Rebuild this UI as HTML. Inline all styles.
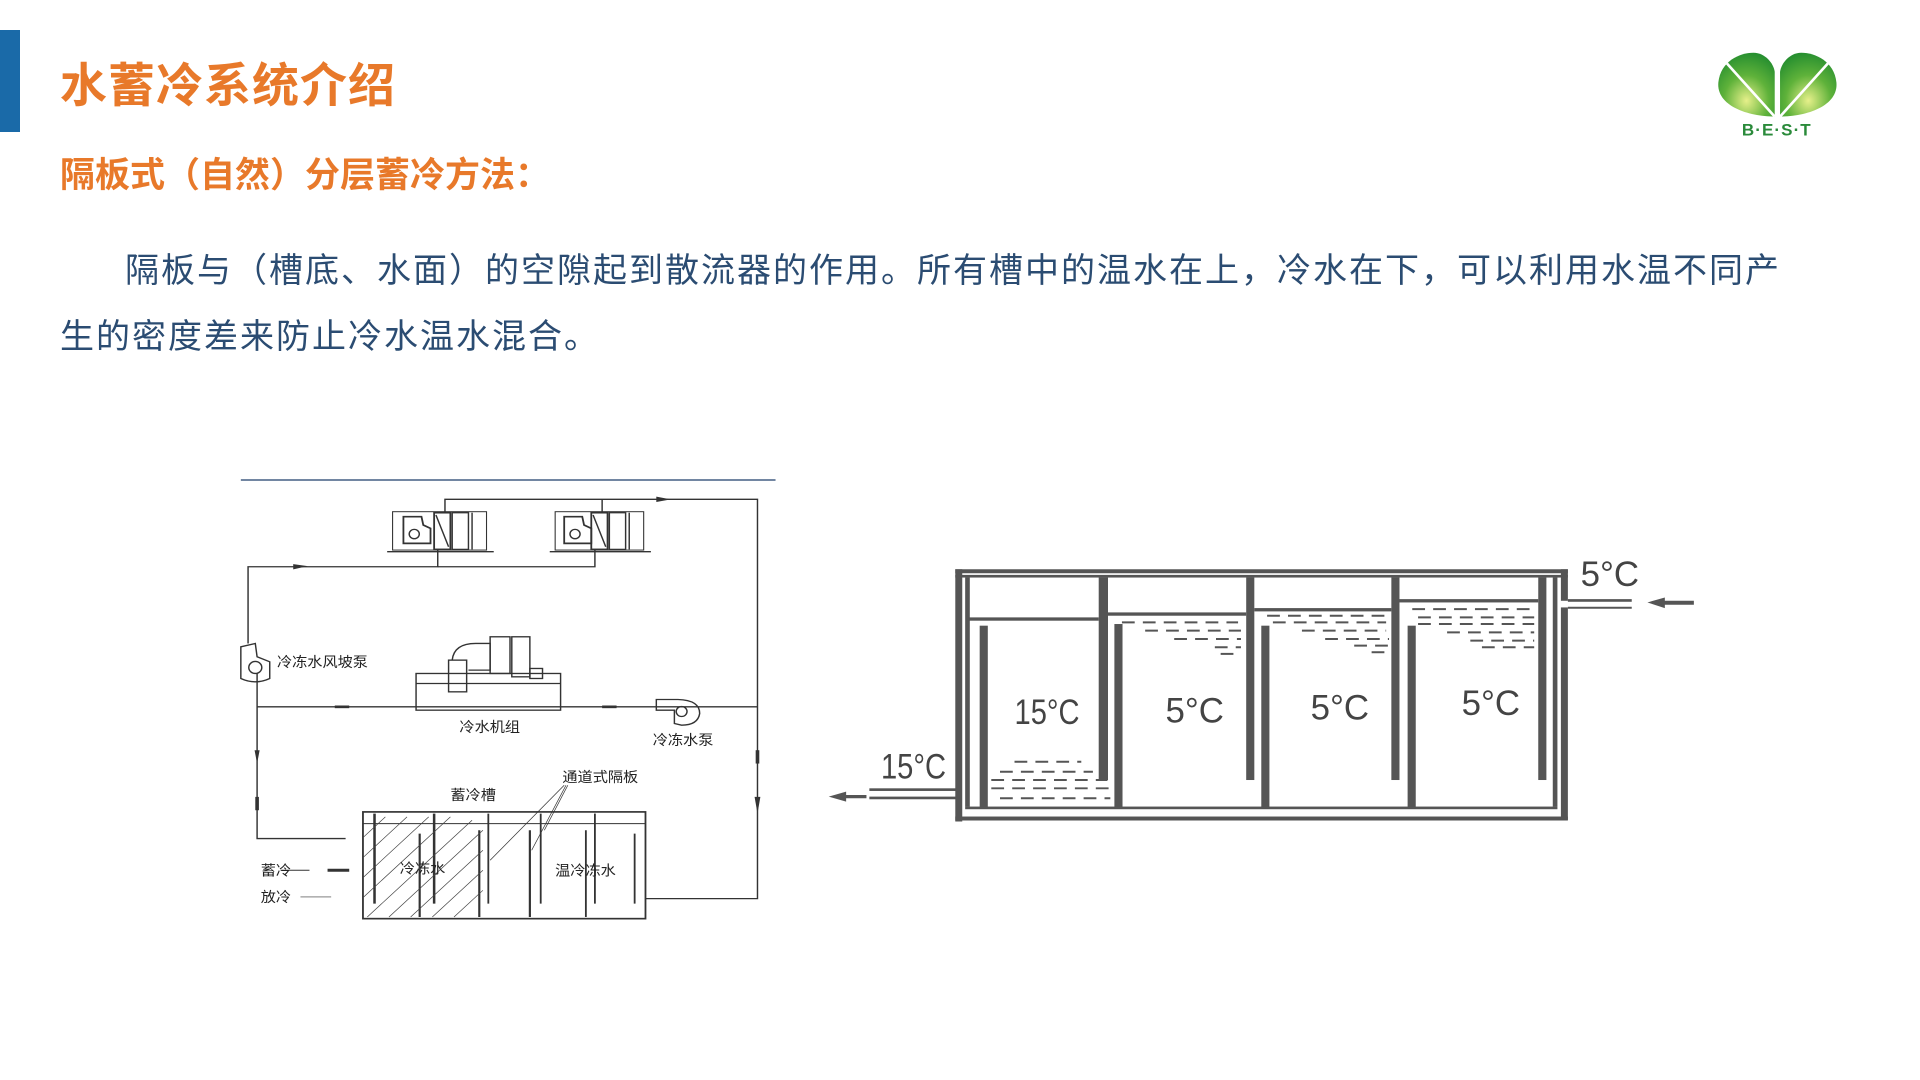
<!DOCTYPE html>
<html><head><meta charset="utf-8">
<style>
html,body{margin:0;padding:0;background:#fff;}
body{width:1920px;height:1080px;position:relative;overflow:hidden;font-family:"Liberation Sans","Noto Sans CJK SC",sans-serif;}
.bar{position:absolute;left:0;top:30px;width:20px;height:102px;background:#1a6aa8;}
.title{position:absolute;left:60px;top:56px;font-size:47px;font-weight:bold;color:#e8792a;line-height:60px;letter-spacing:1px;}
.sub{position:absolute;left:60px;top:154px;font-size:35px;font-weight:bold;color:#e8792a;line-height:44px;}
.p{position:absolute;left:60px;top:238px;font-size:34px;color:#2b4c72;line-height:66px;letter-spacing:2px;white-space:nowrap;}
svg text{font-family:"Liberation Sans","Noto Sans CJK SC",sans-serif;}
</style></head><body>
<div class="bar"></div>
<div class="title">水蓄冷系统介绍</div>
<div class="sub">隔板式（自然）分层蓄冷方法：</div>
<div class="p"><span style="padding-left:65px"></span>隔板与（槽底、水面）的空隙起到散流器的作用。所有槽中的温水在上，冷水在下，可以利用水温不同产<br>生的密度差来防止冷水温水混合。</div>

<!-- logo -->
<svg style="position:absolute;left:1716px;top:40px" width="160" height="100" viewBox="0 0 150 94">
<defs><radialGradient id="g" cx="0.5" cy="0.75" r="0.8"><stop offset="0" stop-color="#e6f08a"/><stop offset="0.5" stop-color="#5fb23a"/><stop offset="1" stop-color="#1f8a2e"/></radialGradient></defs>
<path d="M55,72 C30,72 0,62 2,40 C4,20 22,12 35,12 C46,12 54,22 55,30 Z" fill="url(#g)"/>
<path d="M60,72 C85,72 115,62 113,40 C111,20 93,12 80,12 C69,12 61,22 60,30 Z" fill="url(#g)"/>
<line x1="10" y1="22" x2="55" y2="72" stroke="#fff" stroke-width="2.5"/>
<line x1="105" y1="22" x2="60" y2="72" stroke="#fff" stroke-width="2.5"/>
<text x="57" y="90" text-anchor="middle" font-family="Liberation Serif,serif" font-size="16" font-weight="bold" fill="#2a8a3a" letter-spacing="1">B·E·S·T</text>
</svg>

<!-- left diagram -->
<svg style="position:absolute;left:230px;top:470px" width="560" height="468" viewBox="0 0 1550 1403" preserveAspectRatio="none">
<g stroke="#333" fill="none" stroke-width="4">
<line x1="30" y1="30" x2="1510" y2="30" stroke="#1f3f6a" stroke-width="4"/>
<polyline points="595,125 595,88 1460,88 1460,1285 1150,1285"/>
<line x1="1030" y1="88" x2="1030" y2="125"/>
<polyline points="575,240 575,290 50,290 50,520"/>
<polyline points="1010,240 1010,290 575,290"/>
<rect x="450" y="125" width="260" height="115" stroke-width="3"/>
<line x1="435" y1="245" x2="730" y2="245"/>
<path d="M480,140 L530,140 L535,165 L555,175 L555,220 L480,220 Z" stroke-width="5"/>
<circle cx="510" cy="192" r="14"/>
<rect x="565" y="128" width="45" height="110" stroke-width="5"/>
<line x1="570" y1="135" x2="605" y2="230"/>
<rect x="615" y="128" width="45" height="110"/>
<line x1="670" y1="128" x2="670" y2="238"/>
<rect x="900" y="125" width="245" height="115" stroke-width="3"/>
<line x1="885" y1="245" x2="1165" y2="245"/>
<path d="M925,140 L975,140 L980,165 L1000,175 L1000,220 L925,220 Z" stroke-width="5"/>
<circle cx="955" cy="192" r="14"/>
<rect x="1000" y="128" width="45" height="110" stroke-width="5"/>
<line x1="1005" y1="135" x2="1040" y2="230"/>
<rect x="1050" y="128" width="45" height="110"/>
<line x1="1105" y1="128" x2="1105" y2="238"/>
<path d="M30,625 L30,530 L70,520 L75,560 L110,575 L110,625 Q70,645 30,625 Z" stroke-width="4"/>
<circle cx="70" cy="592" r="18"/>
<polyline points="75,610 75,1105 320,1105"/>
<line x1="75" y1="710" x2="1460" y2="710"/>
<rect x="515" y="610" width="400" height="110"/>
<line x1="515" y1="640" x2="915" y2="640"/>
<rect x="605" y="570" width="50" height="95"/>
<path d="M615,570 Q620,520 680,520 L720,520 L720,600 L660,600"/>
<rect x="720" y="500" width="55" height="110"/>
<rect x="780" y="500" width="50" height="120"/>
<rect x="830" y="595" width="35" height="30"/>
<path d="M1180,688 L1240,688 Q1300,690 1300,730 Q1295,765 1250,765 L1230,760 L1230,720 L1180,720 Z"/>
<circle cx="1250" cy="724" r="15"/>
<rect x="368" y="1025" width="782" height="320" stroke-width="5"/>
<line x1="368" y1="1060" x2="1150" y2="1060" stroke-width="3"/>
<line x1="400" y1="1030" x2="400" y2="1300" stroke-width="7"/>
<line x1="525" y1="1090" x2="525" y2="1340" stroke-width="6"/>
<line x1="565" y1="1030" x2="565" y2="1300" stroke-width="7"/>
<line x1="690" y1="1080" x2="690" y2="1340" stroke-width="6"/>
<line x1="715" y1="1030" x2="715" y2="1300" stroke-width="5"/>
<line x1="830" y1="1080" x2="830" y2="1340" stroke-width="6"/>
<line x1="860" y1="1030" x2="860" y2="1300" stroke-width="5"/>
<line x1="985" y1="1080" x2="985" y2="1340" stroke-width="5"/>
<line x1="1010" y1="1030" x2="1010" y2="1300" stroke-width="5"/>
<line x1="1120" y1="1090" x2="1120" y2="1300" stroke-width="5"/>
<line x1="925" y1="945" x2="720" y2="1170" stroke-width="2"/>
<line x1="930" y1="945" x2="835" y2="1140" stroke-width="2"/>
<line x1="935" y1="945" x2="870" y2="1080" stroke-width="2"/>
<line x1="140" y1="1200" x2="220" y2="1200" stroke-width="3"/>
<line x1="270" y1="1200" x2="330" y2="1200" stroke-width="9"/>
<line x1="195" y1="1280" x2="280" y2="1280" stroke-width="2"/>
</g>
<g stroke="#444" stroke-width="2">
<path d="M370,1100 L430,1040 M370,1160 L490,1040 M370,1220 L550,1040 M370,1280 L610,1040 M380,1340 L670,1050 M440,1340 L700,1080 M500,1340 L700,1140 M560,1340 L700,1200 M620,1340 L700,1260"/>
</g>
<g fill="#333" stroke="none">
<path d="M175,282 L215,288 L175,298 Z"/><path d="M1180,80 L1220,88 L1180,96 Z"/>
<path d="M68,840 L82,840 L75,880 Z"/><path d="M1452,980 L1468,980 L1460,1030 Z"/>
<rect x="70" y="980" width="10" height="40"/><rect x="1455" y="840" width="10" height="40"/>
<rect x="290" y="706" width="40" height="8"/><rect x="1030" y="706" width="40" height="8"/>
</g>
<g fill="#222" font-size="42">
<text x="130" y="590">冷冻水风坡泵</text>
<text x="635" y="785">冷水机组</text>
<text x="1170" y="825">冷冻水泵</text>
<text x="610" y="990">蓄冷槽</text>
<text x="920" y="935">通道式隔板</text>
<text x="470" y="1210">冷冻水</text>
<text x="900" y="1215">温冷冻水</text>
<text x="85" y="1215">蓄冷</text>
<text x="85" y="1295">放冷</text>
</g>
</svg>

<!-- right diagram -->
<svg style="position:absolute;left:820px;top:551px" width="900" height="310" viewBox="0 0 1550 934" preserveAspectRatio="none">
<g fill="#555" stroke="none">
<rect x="233" y="55" width="1055" height="12"/>
<rect x="233" y="72" width="1055" height="8"/>
<rect x="233" y="55" width="12" height="760"/>
<rect x="250" y="80" width="8" height="690"/>
<rect x="233" y="800" width="1055" height="12"/>
<rect x="250" y="770" width="1020" height="8"/>
<rect x="1276" y="55" width="12" height="95"/>
<rect x="1276" y="170" width="12" height="640"/>
<rect x="1262" y="80" width="8" height="690"/>
<rect x="480" y="80" width="16" height="610"/>
<rect x="734" y="80" width="14" height="610"/>
<rect x="984" y="80" width="14" height="610"/>
<rect x="1237" y="80" width="14" height="610"/>
<rect x="275" y="225" width="14" height="550"/>
<rect x="507" y="220" width="14" height="555"/>
<rect x="760" y="225" width="14" height="550"/>
<rect x="1012" y="225" width="14" height="550"/>
<rect x="255" y="200" width="225" height="10"/>
<rect x="496" y="185" width="238" height="10"/>
<rect x="748" y="172" width="236" height="10"/>
<rect x="998" y="145" width="239" height="10"/>
<rect x="1288" y="145" width="110" height="8"/><rect x="1288" y="168" width="110" height="6"/>
<rect x="85" y="715" width="150" height="8"/><rect x="85" y="740" width="150" height="8"/>
<path d="M1425,155 L1455,140 L1455,150 L1505,150 L1505,162 L1455,162 L1455,172 Z"/>
<path d="M15,740 L45,725 L45,735 L80,735 L80,745 L45,745 L45,755 Z"/>
</g>
<g stroke="#555" stroke-width="6" stroke-dasharray="22,14">
<line x1="520" y1="215" x2="720" y2="215"/><line x1="560" y1="240" x2="725" y2="240"/><line x1="610" y1="265" x2="725" y2="265"/><line x1="680" y1="290" x2="725" y2="290"/><line x1="690" y1="310" x2="725" y2="310"/>
<line x1="770" y1="195" x2="975" y2="195"/><line x1="780" y1="215" x2="975" y2="215"/><line x1="830" y1="240" x2="975" y2="240"/><line x1="870" y1="265" x2="980" y2="265"/><line x1="920" y1="285" x2="980" y2="285"/><line x1="950" y1="305" x2="980" y2="305"/>
<line x1="1020" y1="175" x2="1230" y2="175"/><line x1="1030" y1="200" x2="1230" y2="200"/><line x1="1030" y1="220" x2="1230" y2="220"/><line x1="1080" y1="245" x2="1230" y2="245"/><line x1="1120" y1="270" x2="1230" y2="270"/><line x1="1140" y1="290" x2="1230" y2="290"/>
<line x1="335" y1="635" x2="450" y2="635"/><line x1="310" y1="665" x2="470" y2="665"/><line x1="295" y1="690" x2="495" y2="690"/><line x1="295" y1="715" x2="500" y2="715"/><line x1="310" y1="745" x2="500" y2="745"/>
</g>
<g fill="#444" font-family="Liberation Serif,serif" font-size="60" transform="scale(1,1.75)">
<text x="335" y="298" textLength="112" lengthAdjust="spacingAndGlyphs">15°C</text>
<text x="595" y="295">5°C</text>
<text x="845" y="290">5°C</text>
<text x="1105" y="282">5°C</text>
<text x="105" y="392" textLength="112" lengthAdjust="spacingAndGlyphs">15°C</text>
<text x="1310" y="60">5°C</text>
</g>
</svg>
</body></html>
